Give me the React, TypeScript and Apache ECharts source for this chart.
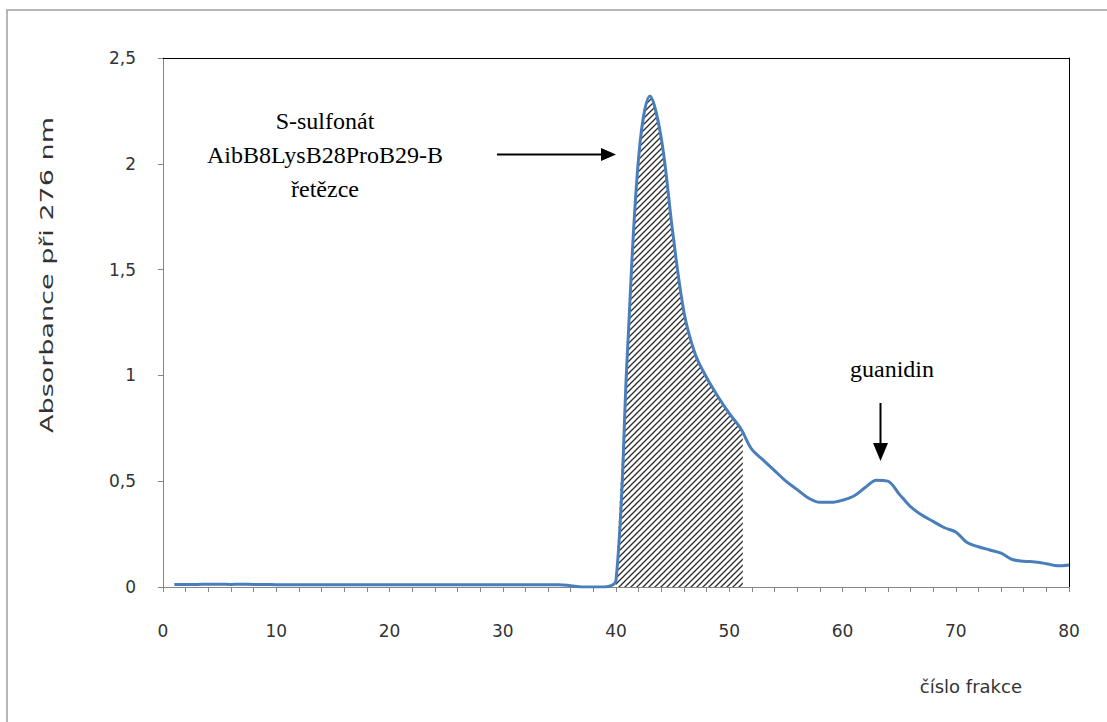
import React, { useEffect, useRef } from "react";
import * as echarts from "echarts";

const fractions: number[] = Array.from({ length: 80 }, (_, i) => i + 1);
const absorbance: number[] = [
  0.012, 0.012, 0.012, 0.013, 0.013, 0.012, 0.013, 0.012, 0.012, 0.011,
  0.011, 0.011, 0.011, 0.011, 0.011, 0.011, 0.011, 0.011, 0.011, 0.011,
  0.011, 0.011, 0.011, 0.011, 0.011, 0.011, 0.011, 0.011, 0.011, 0.011,
  0.011, 0.011, 0.011, 0.011, 0.011, 0.006, 0.0, 0.0, 0.0, 0.03,
  1.1, 2.03, 2.32, 2.12, 1.68, 1.3, 1.1, 0.99, 0.9, 0.82,
  0.75, 0.65, 0.6, 0.55, 0.5, 0.46, 0.42, 0.4, 0.4, 0.41,
  0.43, 0.47, 0.505, 0.5, 0.44, 0.38, 0.34, 0.31, 0.28, 0.26,
  0.21, 0.19, 0.175, 0.16, 0.13, 0.122, 0.118, 0.11, 0.1, 0.104,
];
const hatchStart = 40;
const hatchEnd = 51.2;
const hatchEndValue = 0.73;

const xTicks = [0, 10, 20, 30, 40, 50, 60, 70, 80];
const yTicks = [0, 0.5, 1, 1.5, 2, 2.5];

const peakLabel = ["S-sulfonát", "AibB8LysB28ProB29-B", "řetězce"];
const secondLabel = "guanidin";
const yTitle = "Absorbance při 276 nm";
const xTitle = "číslo frakce";

function makeHatch(): HTMLCanvasElement {
  const c = document.createElement("canvas");
  const s = 6;
  c.width = s;
  c.height = s;
  const ctx = c.getContext("2d")!;
  ctx.strokeStyle = "#2a2a2a";
  ctx.lineWidth = 1.3;
  ctx.beginPath();
  ctx.moveTo(-1, s + 1);
  ctx.lineTo(s + 1, -1);
  ctx.moveTo(-1, 1);
  ctx.lineTo(1, -1);
  ctx.moveTo(s - 1, s + 1);
  ctx.lineTo(s + 1, s - 1);
  ctx.stroke();
  return c;
}

export default function App() {
  const ref = useRef<HTMLDivElement>(null);
  useEffect(() => {
    if (!ref.current) return;
    const chart = echarts.init(ref.current, undefined, { renderer: "svg" });
    const lineData = fractions.map((x, i) => [x, absorbance[i]]);
    const hatchData: number[][] = lineData.filter(
      (d) => d[0] >= hatchStart && d[0] <= hatchEnd
    );
    hatchData.push([hatchEnd, hatchEndValue]);
    const hatch = makeHatch();
    const sans = "'DejaVu Sans', 'Liberation Sans', sans-serif";
    const serif = "'Liberation Serif', 'DejaVu Serif', serif";
    chart.setOption({
      animation: false,
      backgroundColor: "#fff",
      grid: { left: 163, top: 58, right: 38, bottom: 135, containLabel: false },
      xAxis: [
        {
          type: "value",
          min: 0,
          max: 80,
          interval: 10,
          axisLine: { show: true, onZero: false, lineStyle: { color: "#868686", width: 1 } },
          axisTick: { show: true, inside: false, length: 5, lineStyle: { color: "#868686" } },
          minorTick: { show: true, splitNumber: 5, length: 5, lineStyle: { color: "#868686" } },
          splitLine: { show: false },
          axisLabel: {
            color: "#333",
            fontFamily: sans,
            fontSize: 17,
            margin: 35,
            formatter: (v: number) => (xTicks.includes(v) ? String(v) : ""),
          },
        },
        {
          type: "value",
          position: "top",
          min: 0,
          max: 80,
          axisLine: { show: true, onZero: false, lineStyle: { color: "#000", width: 1 } },
          axisTick: { show: false },
          axisLabel: { show: false },
          splitLine: { show: false },
        },
      ],
      yAxis: [
        {
          type: "value",
          min: 0,
          max: 2.5,
          interval: 0.5,
          axisLine: { show: true, onZero: false, lineStyle: { color: "#868686", width: 1 } },
          axisTick: { show: true, inside: false, length: 5, lineStyle: { color: "#868686" } },
          splitLine: { show: false },
          axisLabel: {
            color: "#333",
            fontFamily: sans,
            fontSize: 17,
            margin: 27,
            formatter: (v: number) =>
              yTicks.includes(v) ? String(v).replace(".", ",") : "",
          },
        },
        {
          type: "value",
          position: "right",
          min: 0,
          max: 2.5,
          axisLine: { show: true, onZero: false, lineStyle: { color: "#000", width: 1 } },
          axisTick: { show: false },
          axisLabel: { show: false },
          splitLine: { show: false },
        },
      ],
      series: [
        {
          type: "line",
          data: hatchData,
          smooth: 0.35,
          showSymbol: false,
          silent: true,
          z: 1,
          lineStyle: { width: 0, opacity: 0 },
          areaStyle: {
            origin: "start",
            opacity: 1,
            color: { image: hatch, repeat: "repeat", imageWidth: 6, imageHeight: 6 },
          },
        },
        {
          type: "line",
          data: lineData,
          smooth: 0.35,
          showSymbol: false,
          z: 3,
          lineStyle: { color: "#4a7ebb", width: 3 },
        },
      ],
      graphic: [
        {
          type: "rect",
          shape: { x: 7, y: 10, width: 1200, height: 800 },
          style: { fill: "none", stroke: "#a0a0a0", lineWidth: 1.5 },
          z: -1,
        },
        ...peakLabel.map((t, i) => ({
          type: "text",
          x: 325,
          y: 121 + i * 34,
          style: {
            text: t,
            fill: "#000",
            font: `24px ${serif}`,
            textAlign: "center",
            textVerticalAlign: "middle",
          },
        })),
        {
          type: "line",
          shape: { x1: 497, y1: 154.5, x2: 604, y2: 154.5 },
          style: { stroke: "#000", lineWidth: 2 },
        },
        {
          type: "polygon",
          shape: { points: [[616, 154.5], [601, 148], [601, 161]] },
          style: { fill: "#000" },
        },
        {
          type: "text",
          x: 892,
          y: 369,
          style: {
            text: secondLabel,
            fill: "#000",
            font: `24px ${serif}`,
            textAlign: "center",
            textVerticalAlign: "middle",
          },
        },
        {
          type: "line",
          shape: { x1: 880.5, y1: 403, x2: 880.5, y2: 446 },
          style: { stroke: "#000", lineWidth: 2 },
        },
        {
          type: "polygon",
          shape: { points: [[880.5, 461], [873, 443], [888, 443]] },
          style: { fill: "#000" },
        },
        {
          type: "text",
          x: 47,
          y: 275,
          rotation: Math.PI / 2,
          scaleX: 1.5,
          style: {
            text: yTitle,
            fill: "#333",
            font: `18px ${sans}`,
            textAlign: "center",
            textVerticalAlign: "middle",
          },
        },
        {
          type: "text",
          x: 1022,
          y: 686,
          style: {
            text: xTitle,
            fill: "#333",
            font: `18px ${sans}`,
            textAlign: "right",
            textVerticalAlign: "middle",
          },
        },
      ],
    });
    return () => chart.dispose();
  }, []);
  return (
    <div
      ref={ref}
      style={{ position: "fixed", left: 0, top: 0, width: 1107, height: 722 }}
    />
  );
}
